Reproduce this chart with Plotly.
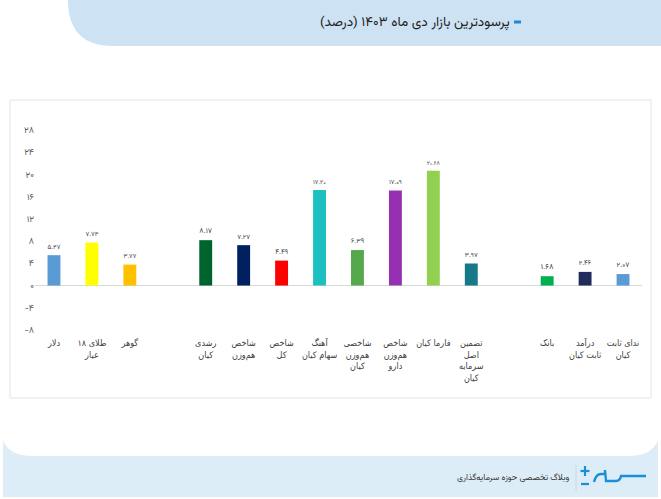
import plotly.graph_objects as go

W, H = 661, 499

categories = [
    "دلار", "طلای ۱۸<br>عیار", "گوهر", " ",
    "رشدی<br>کیان", "شاخص<br>هم‌وزن", "شاخص<br>کل", "آهنگ<br>سهام کیان",
    "شاخصی<br>هم‌وزن<br>کیان", "شاخص<br>هم‌وزن<br>دارو", "فارما کیان",
    "تضمین<br>اصل<br>سرمایه<br>کیان", "  ",
    "بانک", "درآمد<br>ثابت کیان", "ندای ثابت<br>کیان",
]
values = [5.47, 7.74, 3.77, None,
          8.17, 7.27, 4.49, 17.20, 6.39, 17.09, 20.68, 3.97, None,
          1.68, 2.46, 2.07]
colors = ["#5b9bd5", "#ffff00", "#ffc000", "#ffffff",
          "#00642f", "#002060", "#ff0000", "#1cc0c0", "#55a84c", "#9530b2",
          "#92d050", "#17788a", "#ffffff",
          "#00b050", "#202c5e", "#5b9bd5"]
y_ticks = [-8, -4, 0, 4, 8, 12, 16, 20, 24, 28]
title_text = "پرسودترین بازار دی ماه ۱۴۰۳ (درصد)"
footer_text = "وبلاگ تخصصی حوزه سرمایه‌گذاری"

FA = str.maketrans("0123456789", "۰۱۲۳۴۵۶۷۸۹")


def fa(s):
    return str(s).translate(FA)


labels = [fa(f"{v:.2f}") if v is not None else "" for v in values]

FONT = "Vazirmatn, 'Noto Sans Arabic', 'DejaVu Sans', sans-serif"
FONT_C = "'DejaVu Sans Condensed', 'DejaVu Sans', sans-serif"


def px(x):
    return x / W


def py(y):
    return 1 - y / H


def path(points):
    out = []
    for p in points:
        cmd = p[0]
        nums = p[1:]
        parts = []
        for i in range(0, len(nums), 2):
            parts.append(f"{px(nums[i]):.5f},{py(nums[i+1]):.5f}")
        out.append(cmd + " " + " ".join(parts))
    return " ".join(out)


fig = go.Figure()
fig.add_trace(go.Bar(
    x=categories, y=values, marker=dict(color=colors, line=dict(width=0)),
    text=labels, textposition="outside", cliponaxis=False,
    textfont=dict(size=9, color="#404040", family=FONT),
    width=0.34,
))

shapes = []
shapes.append(dict(type="rect", xref="paper", yref="paper", layer="below",
                   x0=px(3), x1=px(658), y0=py(497), y1=py(427),
                   fillcolor="#ddedf8", line=dict(width=0)))
shapes.append(dict(type="path", xref="paper", yref="paper", layer="below",
                   path=path([("M", 0, 60), ("L", 661, 60), ("L", 661, 424),
                              ("Q", 661, 456, 629, 456), ("L", 32, 456),
                              ("Q", 0, 456, 0, 424), ("Z",)]),
                   fillcolor="#ffffff", line=dict(width=0)))
shapes.append(dict(type="path", xref="paper", yref="paper", layer="below",
                   path=path([("M", 68, 0), ("L", 661, 0), ("L", 661, 46),
                              ("L", 113, 46), ("Q", 68, 46, 68, 0), ("Z",)]),
                   fillcolor="#cde3f4", line=dict(width=0)))
shapes.append(dict(type="rect", xref="paper", yref="paper", layer="below",
                   x0=px(10), x1=px(651), y0=py(398), y1=py(100),
                   fillcolor="rgba(0,0,0,0)", line=dict(color="#e4e4e4", width=1)))
shapes.append(dict(type="line", xref="paper", yref="paper",
                   x0=px(514), x1=px(521), y0=py(22), y1=py(22),
                   line=dict(color="#1e88d6", width=3)))
shapes.append(dict(type="line", xref="paper", yref="paper",
                   x0=px(576), x1=px(576), y0=py(465), y1=py(491),
                   line=dict(color="#c4d8e8", width=1)))
shapes.append(dict(type="line", xref="paper", yref="paper",
                   x0=px(585), x1=px(585), y0=py(466), y1=py(476),
                   line=dict(color="#1a8fd8", width=2.2)))
shapes.append(dict(type="line", xref="paper", yref="paper",
                   x0=px(580.5), x1=px(589.5), y0=py(471), y1=py(471),
                   line=dict(color="#1a8fd8", width=2.2)))
shapes.append(dict(type="line", xref="paper", yref="paper",
                   x0=px(581), x1=px(589), y0=py(484), y1=py(484),
                   line=dict(color="#1a8fd8", width=2.2)))
shapes.append(dict(type="path", xref="paper", yref="paper",
                   path=path([("M", 594, 482), ("Q", 596, 474, 601, 474),
                              ("L", 605, 474), ("L", 605, 470), ("L", 606, 481),
                              ("L", 616, 481), ("Q", 620, 481, 621, 476),
                              ("L", 646, 476)]),
                   fillcolor="rgba(0,0,0,0)", line=dict(color="#1a8fd8", width=2.4)))

annotations = [
    dict(text=title_text, xref="paper", yref="paper", x=px(512), y=py(22),
         xanchor="right", yanchor="middle", showarrow=False,
         font=dict(size=13.5, color="#222222", family=FONT)),
    dict(text=footer_text, xref="paper", yref="paper", x=px(571), y=py(478),
         xanchor="right", yanchor="middle", showarrow=False,
         font=dict(size=8.5, color="#333333", family=FONT)),
]

fig.update_layout(
    width=W, height=H,
    margin=dict(l=0, r=0, t=0, b=0),
    paper_bgcolor="#ffffff", plot_bgcolor="rgba(0,0,0,0)",
    showlegend=False,
    shapes=shapes, annotations=annotations,
    font=dict(family=FONT, color="#404040"),
    xaxis=dict(domain=[px(35), px(642)], type="category",
               categoryorder="array", categoryarray=categories,
               range=[-0.5, len(categories) - 0.5],
               showgrid=False, showline=False, zeroline=False, ticks="",
               tickangle=0, ticklabelstandoff=6,
               tickfont=dict(size=9, color="#404040", family=FONT_C),
               automargin=False, fixedrange=True),
    yaxis=dict(domain=[py(330), py(130)], range=[-8, 28],
               tickvals=y_ticks, ticktext=[fa(v) for v in y_ticks],
               showgrid=False, showline=False, ticks="",
               zeroline=True, zerolinecolor="#d9d9d9", zerolinewidth=1,
               tickfont=dict(size=9, color="#595959", family=FONT),
               automargin=False, fixedrange=True),
)

fig.write_html("out.html")
